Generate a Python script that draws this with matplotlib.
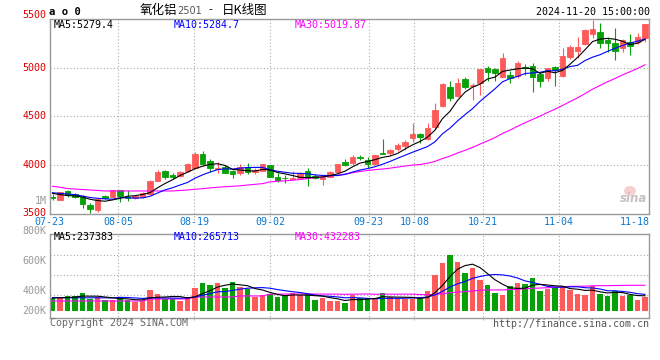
import numpy as np
import matplotlib
matplotlib.use("Agg")
import matplotlib.pyplot as plt
from matplotlib import transforms
from matplotlib.patches import Ellipse

# ---------------- data ----------------
dates = ["07-23", "07-24", "07-25", "07-26", "07-29", "07-30", "07-31", "08-01", "08-02",
         "08-05", "08-06", "08-07", "08-08", "08-09", "08-12", "08-13", "08-14", "08-15", "08-16",
         "08-19", "08-20", "08-21", "08-22", "08-23", "08-26", "08-27", "08-28", "08-29", "08-30",
         "09-02", "09-03", "09-04", "09-05", "09-06", "09-09", "09-10", "09-11", "09-12", "09-13",
         "09-18", "09-19", "09-20", "09-23", "09-24", "09-25", "09-26", "09-27", "09-30",
         "10-08", "10-09", "10-10", "10-11", "10-14", "10-15", "10-16", "10-17", "10-18",
         "10-21", "10-22", "10-23", "10-24", "10-25", "10-28", "10-29", "10-30", "10-31", "11-01",
         "11-04", "11-05", "11-06", "11-07", "11-08", "11-11", "11-12", "11-13", "11-14", "11-15",
         "11-18", "11-19", "11-20"]

opens = [3676, 3645, 3737, 3706, 3680, 3592, 3545, 3686, 3672, 3744,
         3680, 3662, 3672, 3706, 3840, 3942, 3900, 3890, 3942, 3970,
         4115, 4044, 3965, 3985, 3945, 3924, 3986, 3928, 3945, 4003,
         3883, 3870, 3864, 3867, 3942, 3890, 3860, 3883, 3935, 4037,
         4027, 4080, 4055, 4013, 4125, 4123, 4164, 4198, 4283, 4318,
         4266, 4390, 4611, 4799, 4713, 4885, 4815, 4847, 5000, 4987,
         4908, 4925, 4915, 5005, 5017, 4932, 4892, 5005, 4911, 5106,
         5175, 5240, 5346, 5370, 5284, 5256, 5199, 5267, 5260, 5302]
highs = [3709, 3730, 3747, 3715, 3700, 3610, 3662, 3695, 3750, 3750,
         3745, 3700, 3725, 3850, 3952, 3952, 3925, 3940, 4020, 4140,
         4150, 4061, 4030, 4000, 3950, 4010, 4027, 3975, 4015, 4008,
         3918, 3900, 3940, 3935, 3970, 3908, 3900, 3940, 4015, 4060,
         4108, 4105, 4082, 4110, 4266, 4170, 4230, 4258, 4437, 4330,
         4437, 4642, 4840, 4867, 4892, 4900, 4847, 4990, 5021, 5000,
         5154, 4967, 5070, 5040, 5052, 4960, 5000, 5020, 5199, 5230,
         5318, 5400, 5490, 5455, 5318, 5404, 5295, 5346, 5352, 5448]
lows = [3645, 3640, 3672, 3665, 3560, 3515, 3525, 3650, 3665, 3627,
        3630, 3655, 3665, 3700, 3835, 3860, 3855, 3880, 3935, 3960,
        4000, 3935, 3918, 3920, 3873, 3900, 3911, 3910, 3940, 3880,
        3832, 3822, 3845, 3860, 3788, 3860, 3798, 3878, 3930, 3995,
        4000, 4050, 3975, 4008, 4115, 4110, 4150, 4160, 4240, 4230,
        4260, 4370, 4595, 4659, 4700, 4780, 4669, 4720, 4867, 4860,
        4900, 4841, 4890, 4930, 4754, 4805, 4860, 4813, 4900, 5090,
        5100, 5230, 5302, 5200, 5165, 5079, 5165, 5131, 5240, 5260]
closes = [3670, 3723, 3696, 3680, 3605, 3556, 3658, 3660, 3747, 3686,
          3665, 3686, 3720, 3842, 3935, 3884, 3878, 3935, 4013, 4116,
          4010, 3970, 3972, 3925, 3912, 3980, 3935, 3952, 4010, 3884,
          3850, 3865, 3868, 3918, 3867, 3867, 3883, 3935, 4010, 4005,
          4088, 4076, 4015, 4106, 4120, 4157, 4208, 4242, 4318, 4295,
          4380, 4567, 4833, 4693, 4847, 4806, 4823, 4987, 4960, 4943,
          5097, 4892, 5052, 5000, 4902, 4867, 4994, 4977, 5122, 5216,
          5216, 5387, 5397, 5250, 5250, 5175, 5284, 5226, 5318, 5448]
volumes = [210000, 226000, 248000, 248000, 302000, 198000, 226000, 182000, 182000, 231000,
           182000, 153000, 170000, 347000, 285000, 198000, 198000, 165000, 231000, 380000,
           467000, 429000, 467000, 384000, 479000, 401000, 358000, 231000, 264000, 281000,
           236000, 248000, 292000, 259000, 281000, 182000, 215000, 165000, 165000, 137000,
           259000, 210000, 210000, 210000, 292000, 236000, 198000, 198000, 198000, 198000,
           330000, 594000, 792000, 924000, 809000, 627000, 710000, 512000, 429000, 297000,
           264000, 413000, 462000, 446000, 545000, 330000, 363000, 396000, 413000, 347000,
           281000, 264000, 413000, 281000, 248000, 330000, 248000, 264000, 182000, 231000]

# moving-average values at the start of the window
ma5_head = [3713, 3700, 3690, 3686]
ma10_head = [3719, 3712, 3706, 3700, 3685, 3670, 3662, 3656, 3652]
ma30_head = [3785, 3775, 3762, 3757, 3752, 3747, 3742,
             3737, 3737, 3737, 3737, 3737, 3737, 3737, 3737, 3737, 3737,
             3742, 3747, 3755, 3760, 3768, 3775, 3780, 3785, 3790, 3798, 3805, 3812]
vol_ma5_head = [214000, 218000, 222000, 230000]
vol_ma10_head = [220000, 220000, 219000, 219000, 218000, 218000, 217000, 217000, 216000]
vol_ma30_head = [165000] * 13 + [198000] * 6 + [231000] * 6 + [248000] * 4

x_labels = ["07-23", "08-05", "08-19", "09-02", "09-23", "10-08", "10-21", "11-04", "11-18"]
price_ticks = [3500, 4000, 4500, 5000, 5500]
vol_tick_labels = ["800K", "600K", "400K", "200K"]

title_name = "氧化铝"
title_code = "2501"
title_tail = "日K线图"
time_text = "2024-11-20 15:00:00"
ma_texts = ["MA5:5279.4", "MA10:5284.7", "MA30:5019.87"]
vol_ma_texts = ["MA5:237383", "MA10:265713", "MA30:432283"]

# ---------------- helpers ----------------
W, H = 660, 360
RED = "#ff5a5a"
GREEN = "#07a007"
GRID = "#aaaaaa"
MONO = "DejaVu Sans Mono"
CJK = ["Noto Sans CJK SC", "DejaVu Sans"]
LW = 0.8


def fx(px):
    return px / W


def fy(py):
    return 1 - py / H


def moving_avg(vals, head, w):
    vals = np.asarray(vals, dtype=float)
    out = []
    for i in range(len(vals)):
        if i < w - 1:
            out.append(head[i])
        else:
            out.append(vals[i - w + 1:i + 1].mean())
    return np.array(out)


opens_a = np.array(opens, float)
closes_a = np.array(closes, float)
highs_a = np.array(highs, float)
lows_a = np.array(lows, float)
vol_a = np.array(volumes, float)
n = len(dates)
x = np.arange(n)

ma5 = moving_avg(closes, ma5_head, 5)
ma10 = moving_avg(closes, ma10_head, 10)
ma30 = moving_avg(closes, ma30_head, 30)
vma5 = moving_avg(volumes, vol_ma5_head, 5)
vma10 = moving_avg(volumes, vol_ma10_head, 10)
vma30 = moving_avg(volumes, vol_ma30_head, 30)

up = closes_a >= opens_a
colors = np.where(up, RED, GREEN)

fig = plt.figure(figsize=(6.6, 3.6), dpi=100)
fig.patch.set_facecolor("white")

ax = fig.add_axes([fx(50), fy(214.1), (649 - 50) / W, (214.1 - 18.9) / H])
ax2 = fig.add_axes([fx(50), fy(317.7), (649 - 50) / W, (317.7 - 234) / H])

XL = (-2.5 / 7.5, (649 - 52.5) / 7.5)


def label_x(i):
    # label / grid scale of the chart (slightly different pitch than candles)
    return (i * 7.6 - 2.9) / 7.5


label_idx = [dates.index(d) for d in x_labels]

for a in (ax, ax2):
    a.set_xlim(*XL)
    a.set_xticks([])
    a.set_yticks([])
    for s in a.spines.values():
        s.set_color("#9a9a9a")
        s.set_linewidth(1.0)
    for i in label_idx[1:-1]:
        a.axvline(label_x(i), ymin=-0.03, ymax=1, color=GRID, lw=0.8, ls=(0, (1, 2)),
                  zorder=0, clip_on=False)

# ---- main price panel ----
ax.set_ylim(price_ticks[0], price_ticks[-1])
for v in price_ticks[1:-1]:
    ax.axhline(v, color=GRID, lw=0.8, ls=(0, (1, 2)), zorder=0)

ax.vlines(x, lows_a, highs_a, colors=colors, lw=0.8, zorder=2)
ax.bar(x, np.abs(closes_a - opens_a), bottom=np.minimum(opens_a, closes_a), width=0.78,
       color=colors, edgecolor=colors, linewidth=0.6, zorder=2)
ax.plot(x, ma30, color="#ff00ff", lw=LW, zorder=3)
ax.plot(x, ma10, color="#0000ff", lw=LW, zorder=3)
ax.plot(x, ma5, color="black", lw=LW, zorder=3)

# price labels
trans_p = transforms.blended_transform_factory(fig.transFigure, ax.transData)
for v in price_ticks:
    off = 0
    if v == price_ticks[-1]:
        off = 3.0
    elif v == price_ticks[0]:
        off = 1.0
    t = transforms.offset_copy(trans_p, fig=fig, x=0, y=off, units="points")
    fig.text(fx(46.5), v, str(v), transform=t, ha="right", va="center",
             color="#dd0000", fontsize=7.2, family=MONO)
fig.text(fx(46.5), fy(200.7), "1M", ha="right", va="center", color="#999999",
         fontsize=7.2, family=MONO)

# date labels
trans_x = transforms.blended_transform_factory(ax.transData, fig.transFigure)
for d, i in zip(x_labels, label_idx):
    fig.text(label_x(i), fy(221.7), d, transform=trans_x, ha="center", va="center",
             color="#0a78d2", fontsize=7.2, family=MONO)

# MA texts (main)
for txt, px, c in zip(ma_texts, [54, 174, 295], ["black", "#0000ff", "#ff00ff"]):
    fig.text(fx(px), fy(24.5), txt, ha="left", va="center", color=c, fontsize=7.2, family=MONO)

# watermark
fig.patches.append(Ellipse((fx(630), fy(191)), 12 / W, 10 / H, transform=fig.transFigure,
                           facecolor="#f4c4c4", edgecolor="none", alpha=0.8))
fig.text(fx(634), fy(199), "sina", ha="center", va="center", color="#c8c0c0",
         fontsize=8.5, style="italic", weight="bold", family="DejaVu Sans")

# ---- volume panel ----
VPX = 16500.0
ax2.set_ylim(-(317.7 - 311) * VPX, (311 - 234) * VPX)
for py in [255.3, 275.3, 295.3]:
    ax2.axhline((311 - py) * VPX, color=GRID, lw=0.8, ls=(0, (1, 2)), zorder=0)
ax2.bar(x, vol_a, width=0.78, color=colors, linewidth=0, zorder=2)
ax2.plot(x, vma30, color="#ff00ff", lw=LW, zorder=3)
ax2.plot(x, vma10, color="#0000ff", lw=LW, zorder=3)
ax2.plot(x, vma5, color="black", lw=LW, zorder=3)

for lab, py in zip(vol_tick_labels, [230.7, 261.0, 290.7, 311.0]):
    fig.text(fx(46.5), fy(py), lab, ha="right", va="center", color="#999999",
             fontsize=7.2, family=MONO)

for txt, px, c in zip(vol_ma_texts, [54, 174, 295], ["black", "#0000ff", "#ff00ff"]):
    fig.text(fx(px), fy(237.5), txt, ha="left", va="center", color=c, fontsize=7.2, family=MONO)

# ---- header & footer ----
fig.text(fx(49), fy(12), "a o 0", ha="left", va="center", color="black",
         fontsize=7.6, weight="bold", family=MONO)
fig.text(fx(140), fy(10.5), title_name, ha="left", va="center", color="black",
         fontsize=9, family=CJK)
fig.text(fx(177), fy(11), title_code, ha="left", va="center", color="#555555",
         fontsize=7.0, family="DejaVu Sans")
fig.text(fx(210.5), fy(10.5), "-", ha="center", va="center", color="black",
         fontsize=8, family=CJK)
fig.text(fx(222), fy(10.5), title_tail, ha="left", va="center", color="black",
         fontsize=9, family=CJK)
fig.text(fx(649.5), fy(12), time_text, ha="right", va="center", color="black",
         fontsize=7.2, family=MONO)
fig.text(fx(50), fy(323.5), "Copyright 2024 SINA.COM", ha="left", va="center",
         color="#666666", fontsize=7.2, family=MONO)
fig.text(fx(649.5), fy(324), "http://finance.sina.com.cn", ha="right", va="center",
         color="#555555", fontsize=7.2, family=MONO)

fig.savefig("out.png", dpi=100, facecolor="white")
